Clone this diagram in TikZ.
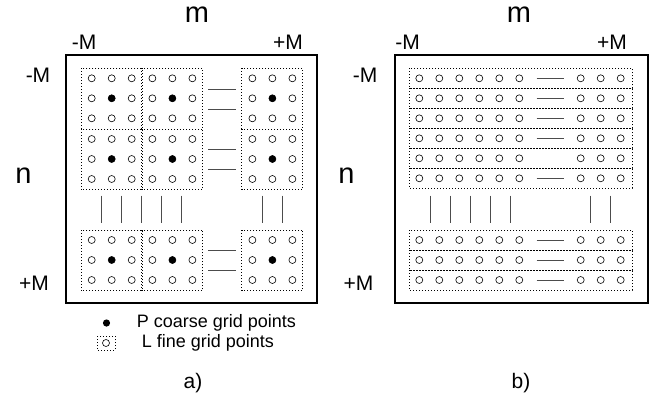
\documentclass[tikz,border=0pt]{standalone}
\usepackage{fontspec}
\setmainfont{Liberation Sans}
\usetikzlibrary{positioning}

\begin{document}
\begin{tikzpicture}[
  x=1pt, y=-1pt, every node/.style={font=\fontsize{21}{24}\selectfont, inner sep=0pt},
  frame/.style={draw, line width=1.6pt},
  blockbox/.style={draw, line width=1pt, dash pattern=on 1pt off 2pt},
  fine/.style={draw, line width=0.6pt},
  coarse/.style={fill=black},
  gap/.style={draw=black!70, line width=0.6pt},
  axis/.style={font=\fontsize{29}{32}\selectfont},
  legend/.style={font=\fontsize{18}{21}\selectfont, anchor=west}
]
  \useasboundingbox (0,0) rectangle (657,397);

  % panel a)
  \draw[frame] (66,55) rectangle (317,303);
  \foreach \bx in {81,141.7,241.7}
    \foreach \by in {68.3,129,230} {
      \draw[blockbox] (\bx,\by) rectangle ++(61,60.7);
      \foreach \i in {0,1,2}
        \foreach \j in {0,1,2}
          \draw[fine] (\bx+10.7+20*\i,\by+10+20*\j) circle (3.5);
      \fill[coarse] (\bx+30.7,\by+30) circle (3.6);
    }
  \foreach \y in {89,109,149,169,250,270}
    \draw[gap] (208,\y) -- (236,\y);
  \foreach \x in {101.7,121.7,141.7,161.7,181.7,262.3,282.3}
    \draw[gap] (\x,195.7) -- (\x,223.3);

  \node[axis] (mA) at (197,15) {m};
  \node (lowA) at (84,42.5) {-M};
  \node (highA) at (288,42.5) {+M};
  \node (topA) at (38,75.7) {-M};
  \node[axis] (nA) at (23.5,176) {n};
  \node (botA) at (34,283) {+M};

  \fill[coarse] (106.5,323) coordinate (dotkey) circle (3.6);
  \draw[blockbox] (97,336) rectangle (115,350);
  \draw[fine] (106,343) coordinate (boxkey) circle (3.5);
  \node[legend] (coarsekey) at (136.7,323) {P coarse grid points};
  \node[legend] (finekey) at (141.7,343) {L fine grid points};
  \node (capA) at (193,383) {a)};

  % panel b)
  \draw[frame] (395,55) rectangle (648,303);
  \foreach \by [count=\k] in {68.3,88.3,108.3,128.3,148.3,168.3,230,250,270} {
    \draw[blockbox] (409,\by) rectangle (632,\by+20);
    \foreach \x in {419.3,439.3,459.3,479.3,499.3,519.3,580.7,600.7,620.7}
      \draw[fine] (\x,\by+10) circle (3.5);
    \ifnum\k=5 \else \draw[gap] (536.7,\by+10) -- (564,\by+10); \fi
  }
  \foreach \x in {430,450,470,490,510,590.7,610.7}
    \draw[gap] (\x,195.7) -- (\x,223.3);

  \node[axis] (mB) at (519,15) {m};
  \node (lowB) at (407.5,42.5) {-M};
  \node (highB) at (612,42.5) {+M};
  \node (topB) at (365,75.7) {-M};
  \node[axis] (nB) at (346.5,176) {n};
  \node (botB) at (358.5,283) {+M};
  \node (capB) at (521,383) {b)};
\end{tikzpicture}
\end{document}
